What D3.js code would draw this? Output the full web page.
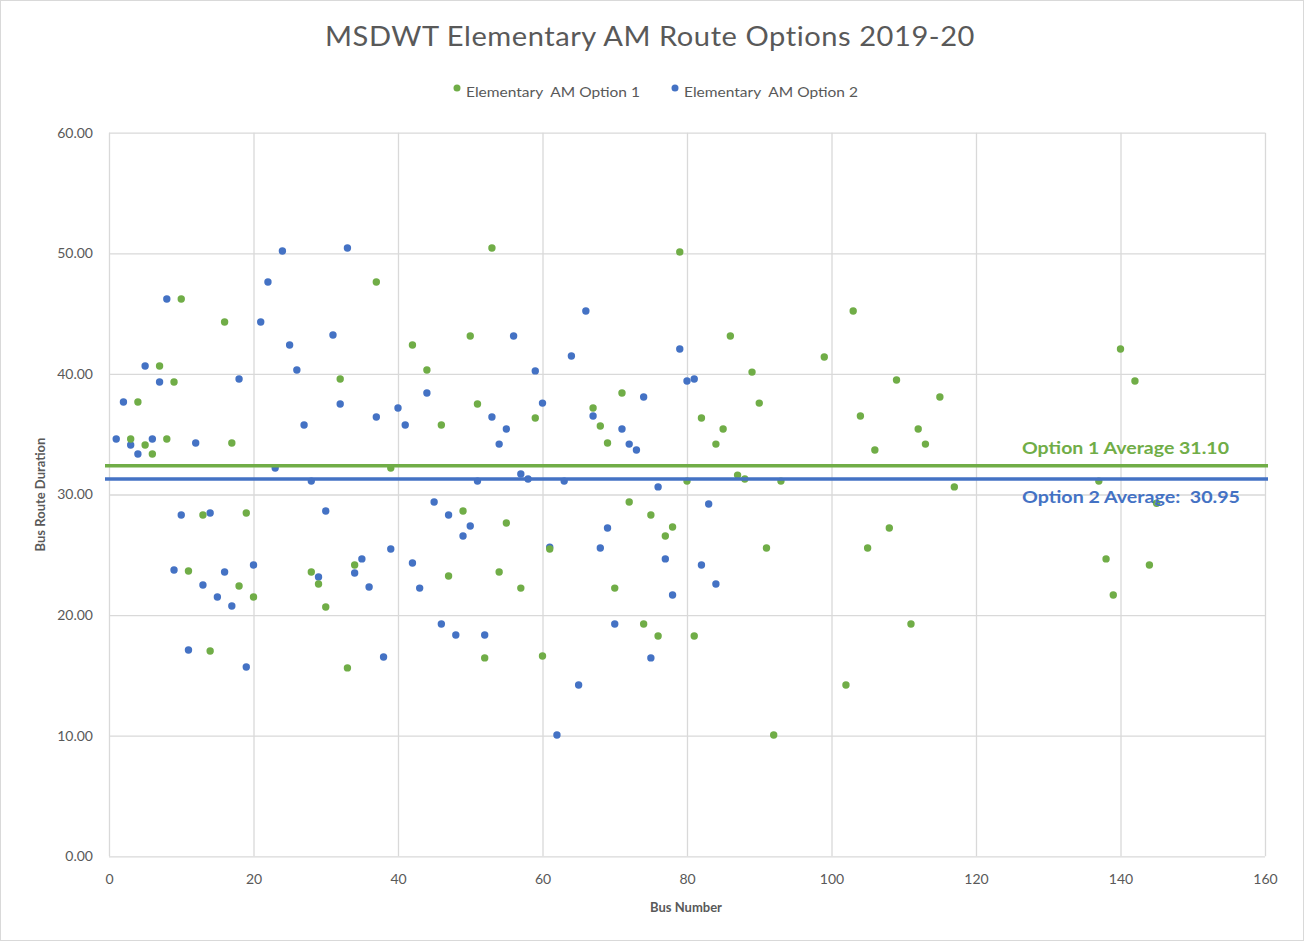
<!DOCTYPE html>
<html>
<head>
<meta charset="utf-8">
<script src="https://cdn.jsdelivr.net/npm/d3@7"></script>
<style>
  html, body { margin: 0; padding: 0; background: #fff; }
  svg text { font-family: Lato, "Open Sans", sans-serif; white-space: pre; }
</style>
</head>
<body>
<svg id="chart" width="1304" height="943"></svg>
<script>
// ---------------- DATA ----------------
const title = "MSDWT Elementary AM Route Options 2019-20";
const seriesNames = ["Elementary  AM Option 1", "Elementary  AM Option 2"];
const xTicks = [0, 20, 40, 60, 80, 100, 120, 140, 160];
const yTicks = [0, 10, 20, 30, 40, 50, 60];

// Option 1 (green): bus numbers and durations
const opt1Bus = [3,4,5,6,7,8,9,10,11,13,14,16,17,18,19,20,28,29,30,32,33,34,37,39,42,44,46,47,49,50,51,52,53,54,55,57,59,60,61,67,68,69,70,71,72,74,75,76,77,78,79,80,81,82,84,85,86,87,88,89,90,91,92,93,99,102,103,104,105,106,108,109,111,112,113,115,117,137,138,139,140,142,144,145];
const opt1Dur = [34.60,37.67,34.10,33.36,40.65,34.60,39.33,46.21,23.66,28.30,17.02,44.30,34.27,22.41,28.46,21.50,23.57,22.58,20.67,39.58,15.62,24.16,47.62,32.20,42.40,40.32,35.76,23.24,28.63,43.14,37.50,16.45,50.44,23.57,27.64,22.24,36.34,16.61,25.48,37.17,35.68,34.27,22.24,38.42,29.38,19.26,28.30,18.27,26.56,27.31,50.11,31.11,18.27,36.34,34.18,35.43,43.14,31.61,31.28,40.15,37.58,25.56,10.06,31.11,41.40,14.20,45.22,36.51,25.56,33.69,27.22,39.50,19.26,35.43,34.18,38.08,30.63,31.11,24.66,21.67,42.07,39.41,24.16,29.28];

// Option 2 (blue): buses 1..84
const opt2Bus = [1,2,3,4,5,6,7,8,9,10,11,12,13,14,15,16,17,18,19,20,21,22,23,24,25,26,27,28,29,30,31,32,33,34,35,36,37,38,39,40,41,42,43,44,45,46,47,48,49,50,51,52,53,54,55,56,57,58,59,60,61,62,63,64,65,66,67,68,69,70,71,72,73,74,75,76,77,78,79,80,81,82,83,84];
const opt2Dur = [34.60,37.67,34.10,33.36,40.65,34.60,39.33,46.21,23.74,28.30,17.10,34.27,22.49,28.46,21.50,23.57,20.76,39.58,15.70,24.16,44.30,47.62,32.20,50.19,42.40,40.32,35.76,31.11,23.16,28.63,43.22,37.50,50.44,23.49,24.66,22.33,36.43,16.52,25.48,37.17,35.76,24.32,22.24,38.42,29.38,19.26,28.30,18.35,26.56,27.39,31.11,18.35,36.43,34.18,35.43,43.14,31.70,31.28,40.25,37.58,25.64,10.06,31.11,41.48,14.20,45.22,36.51,25.56,27.22,19.26,35.43,34.18,33.69,38.08,16.45,30.63,24.66,21.67,42.07,39.41,39.58,24.16,29.21,22.58];

// Average reference lines (drawn where they appear in the picture) and their labels
const avgLineY = [32.39, 31.29];
const avgLabels = ["Option 1 Average 31.10", "Option 2 Average:  30.95"];

const colors = ["#70AD47", "#4472C4"];

// ---------------- CHART ----------------
const svg = d3.select("#chart");
const W = 1304, H = 943;
const plot = { left: 109, right: 1265, top: 132.7, bottom: 856.3 };

svg.append("rect").attr("x", 0.5).attr("y", 0.5).attr("width", W - 1).attr("height", H - 3)
  .attr("fill", "#fff").attr("stroke", "#d9d9d9");

const x = d3.scaleLinear().domain([0, 160]).range([plot.left, plot.right]);
const y = d3.scaleLinear().domain([0, 60]).range([plot.bottom, plot.top]);

// gridlines
const gx = svg.append("g").attr("transform", `translate(0,${plot.bottom})`)
  .call(d3.axisBottom(x).tickValues(xTicks).tickSize(-(plot.bottom - plot.top)).tickFormat(d => d).tickPadding(25));
gx.select(".domain").remove();
gx.selectAll(".tick line").attr("stroke", "#d9d9d9").attr("stroke-width", 1.3);
gx.selectAll(".tick text").attr("fill", "#595959").style("font-size", "14px").attr("dy", "0.2em");

const gy = svg.append("g").attr("transform", `translate(${plot.left},0)`)
  .call(d3.axisLeft(y).tickValues(yTicks).tickSize(-(plot.right - plot.left)).tickFormat(d3.format(".2f")).tickPadding(16));
gy.select(".domain").remove();
gy.selectAll(".tick line").attr("stroke", "#d9d9d9").attr("stroke-width", 1.3);
gy.selectAll(".tick text").attr("fill", "#595959").style("font-size", "14px");

// points
const s1 = opt1Bus.map((b, i) => ({ b, v: opt1Dur[i] }));
const s2 = opt2Bus.map((b, i) => ({ b, v: opt2Dur[i] }));

svg.append("g").selectAll("circle").data(s2).join("circle")
  .attr("cx", d => x(d.b)).attr("cy", d => y(d.v)).attr("r", 3.7).attr("fill", colors[1]);
svg.append("g").selectAll("circle").data(s1).join("circle")
  .attr("cx", d => x(d.b)).attr("cy", d => y(d.v)).attr("r", 3.7).attr("fill", colors[0]);

// average lines
avgLineY.forEach((v, i) => {
  svg.append("line").attr("x1", plot.left - 4).attr("x2", plot.right + 3)
    .attr("y1", y(v)).attr("y2", y(v)).attr("stroke", colors[i]).attr("stroke-width", 3.6);
});
svg.append("text").attr("x", 1022).attr("y", y(avgLineY[0]) - 12)
  .attr("fill", colors[0]).style("font-size", "17px").style("font-weight", "bold")
  .attr("textLength", 207).attr("lengthAdjust", "spacingAndGlyphs").text(avgLabels[0]);
svg.append("text").attr("x", 1022).attr("y", y(avgLineY[1]) + 24)
  .attr("fill", colors[1]).style("font-size", "17px").style("font-weight", "bold")
  .attr("textLength", 218).attr("lengthAdjust", "spacingAndGlyphs").text(avgLabels[1]);

// title
svg.append("text").attr("x", 650).attr("y", 46).attr("text-anchor", "middle")
  .attr("fill", "#595959").style("font-size", "26px").style("letter-spacing", "0.5px")
  .attr("textLength", 650).attr("lengthAdjust", "spacingAndGlyphs").text(title);

// legend
const legX = [457, 675];
seriesNames.forEach((n, i) => {
  svg.append("circle").attr("cx", legX[i]).attr("cy", 88).attr("r", 3.5).attr("fill", colors[i]);
  svg.append("text").attr("x", legX[i] + 9).attr("y", 97).attr("fill", "#595959")
    .style("font-size", "14px").attr("textLength", 174).attr("lengthAdjust", "spacingAndGlyphs").text(n);
});

// axis titles
svg.append("text").attr("x", 686).attr("y", 912).attr("text-anchor", "middle")
  .attr("fill", "#595959").style("font-size", "13px").style("font-weight", "bold").text("Bus Number");
svg.append("text").attr("transform", `translate(45,${(plot.top + plot.bottom) / 2}) rotate(-90)`)
  .attr("text-anchor", "middle").attr("fill", "#595959").style("font-size", "13px").style("font-weight", "bold")
  .text("Bus Route Duration");
</script>
</body>
</html>
